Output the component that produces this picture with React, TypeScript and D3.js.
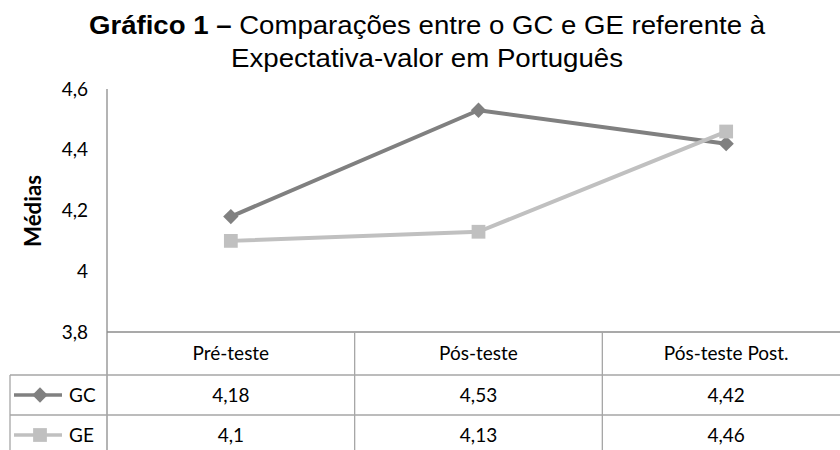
import * as d3 from "d3";

const categories = ["Pré-teste", "Pós-teste", "Pós-teste Post."];
const gcValues = [4.18, 4.53, 4.42];
const geValues = [4.1, 4.13, 4.46];
const yTicks = [3.8, 4, 4.2, 4.4, 4.6];

const series = [
  { name: "GC", values: gcValues, color: "#808080", marker: "diamond" },
  { name: "GE", values: geValues, color: "#c0c0c0", marker: "square" },
];

const W = 840;
const H = 450;
const plotLeft = 107;
const plotRight = 850;
const plotTop = 89;
const plotBottom = 332;
const rowH = [43, 40, 40];
const legendLeft = 10;

const ptBR = d3.formatLocale({ decimal: ",", thousands: ".", grouping: [3], currency: ["R$", ""] });
const fmt = ptBR.format("~g");

const tableFont = "Lato, 'Open Sans', sans-serif";
const titleFont = "'Liberation Sans', Arial, sans-serif";

export default function App() {
  const x = d3.scaleBand<string>().domain(categories).range([plotLeft, plotRight]);
  const y = d3.scaleLinear().domain([3.8, 4.6]).range([plotBottom, plotTop]);
  const line = d3
    .line<number>()
    .x((_, i) => x(categories[i])! + x.bandwidth() / 2)
    .y((d) => y(d));

  const diamond = d3.symbol(d3.symbolDiamond2, 150)()!;
  const square = d3.symbol(d3.symbolSquare, 190)()!;

  const rowTops = [plotBottom, plotBottom + rowH[0], plotBottom + rowH[0] + rowH[1]];
  const gridColor = "#a6a6a6";

  return (
    <svg
      width={W}
      height={H}
      style={{ position: "absolute", left: 0, top: 0, background: "#fff" }}
    >
      {/* title */}
      <text
        x={427}
        y={34}
        textAnchor="middle"
        fontFamily={titleFont}
        fontSize={25}
        fill="#000"
        textLength={676}
        lengthAdjust="spacingAndGlyphs"
      >
        <tspan fontWeight="bold">Gráfico 1 –</tspan>
        <tspan> Comparações entre o GC e GE referente à</tspan>
      </text>
      <text
        x={427}
        y={67}
        textAnchor="middle"
        fontFamily={titleFont}
        fontSize={25}
        fill="#000"
        textLength={392}
        lengthAdjust="spacingAndGlyphs"
      >
        Expectativa-valor em Português
      </text>

      {/* y axis label */}
      <text
        transform={`translate(33,${211}) rotate(-90)`}
        textAnchor="middle"
        dy="0.35em"
        fontFamily={tableFont}
        fontWeight="bold"
        fontSize={22}
        fill="#000"
        textLength={72}
        lengthAdjust="spacingAndGlyphs"
      >
        Médias
      </text>

      {/* y ticks */}
      {yTicks.map((t) => (
        <text
          key={t}
          x={88}
          y={y(t)}
          dy="0.35em"
          textAnchor="end"
          fontFamily={tableFont}
          fontSize={19}
          fill="#000"
        >
          {fmt(t)}
        </text>
      ))}

      {/* axis + table grid */}
      <line x1={plotLeft} x2={plotLeft} y1={plotTop} y2={H} stroke="#8c8c8c" strokeWidth={1.3} />
      <line x1={plotLeft} x2={W} y1={plotBottom} y2={plotBottom} stroke="#8c8c8c" strokeWidth={1.3} />
      {rowTops.slice(1).map((ry) => (
        <line key={ry} x1={legendLeft} x2={W} y1={ry} y2={ry} stroke={gridColor} strokeWidth={1.3} />
      ))}
      <line x1={legendLeft} x2={legendLeft} y1={rowTops[1]} y2={H} stroke={gridColor} strokeWidth={1.3} />
      {categories.slice(1).map((c) => (
        <line key={c} x1={x(c)} x2={x(c)} y1={plotBottom} y2={H} stroke={gridColor} strokeWidth={1.3} />
      ))}

      {/* category labels */}
      {categories.map((c) => (
        <text
          key={c}
          x={x(c)! + x.bandwidth() / 2}
          y={rowTops[0] + rowH[0] / 2}
          dy="0.35em"
          textAnchor="middle"
          fontFamily={tableFont}
          fontSize={19}
          fill="#000"
        >
          {c}
        </text>
      ))}

      {/* table rows */}
      {series.map((s, si) => {
        const cy = rowTops[si + 1] + rowH[si + 1] / 2;
        return (
          <g key={s.name}>
            <line x1={14} x2={62} y1={cy} y2={cy} stroke={s.color} strokeWidth={3.5} />
            <path
              d={s.marker === "diamond" ? diamond : square}
              transform={`translate(40,${cy})`}
              fill={s.color}
            />
            <text x={69} y={cy} dy="0.35em" fontFamily={tableFont} fontSize={19} fill="#000">
              {s.name}
            </text>
            {s.values.map((v, i) => (
              <text
                key={i}
                x={x(categories[i])! + x.bandwidth() / 2}
                y={cy}
                dy="0.35em"
                textAnchor="middle"
                fontFamily={tableFont}
                fontSize={19}
                fill="#000"
              >
                {fmt(v)}
              </text>
            ))}
          </g>
        );
      })}

      {/* series lines */}
      {series.map((s) => (
        <g key={s.name}>
          <path d={line(s.values)!} fill="none" stroke={s.color} strokeWidth={4} strokeLinejoin="round" />
          {s.values.map((v, i) => (
            <path
              key={i}
              d={s.marker === "diamond" ? diamond : square}
              transform={`translate(${x(categories[i])! + x.bandwidth() / 2},${y(v)})`}
              fill={s.color}
            />
          ))}
        </g>
      ))}
    </svg>
  );
}
